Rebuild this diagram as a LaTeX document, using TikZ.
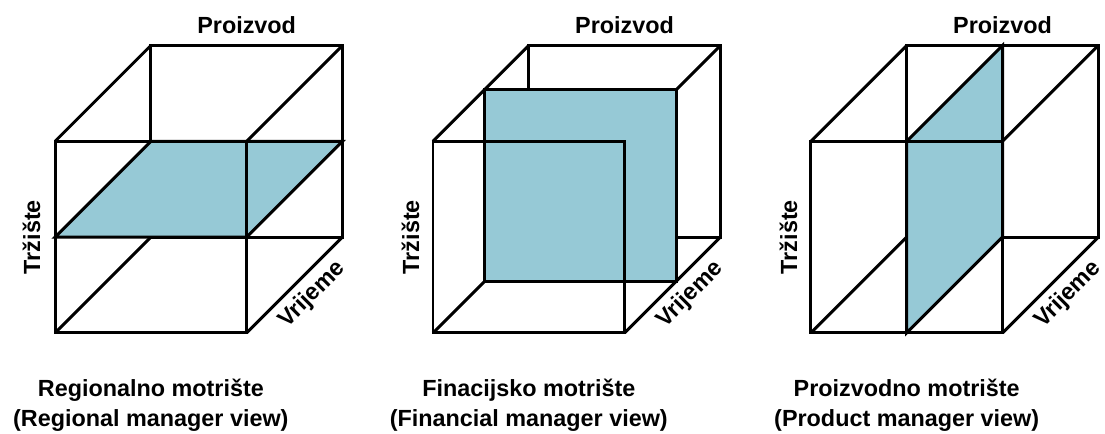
\documentclass[tikz,border=0pt]{standalone}
\usepackage{fontspec}
\setmainfont{Liberation Sans}
\usepackage{xcolor}
\usepackage{tikz}

\definecolor{slicefill}{RGB}{150,201,214}

\begin{document}
\begin{tikzpicture}[
    x=0.958cm, y=0.958cm,
    edge/.style={line width=1.7pt},
    slice/.style={fill=slicefill, draw, line width=1.7pt},
    axis/.style={font=\fontsize{13.3}{16}\selectfont\bfseries, inner sep=0},
    caption/.style={font=\fontsize{13.3}{17}\selectfont\bfseries, align=center, inner sep=0}
]
\useasboundingbox (0,0) rectangle (23.07,9.06);

% Regional view
\begin{scope}[shift={(1.15,2.11)}]
\draw[edge] (2,2) rectangle (6,6);
\draw[edge] (0,0) -- (2,2) (4,0) -- (6,2) (0,4) -- (2,6) (4,4) -- (6,6);
\draw[slice] (0,2) -- (4,2) -- (6,4) -- (2,4) -- cycle;
\draw[edge] (0,0) rectangle (4,4);
\node[axis, anchor=base] (reg-product) at (4,6.26) {Proizvod};
\node[axis, rotate=90, anchor=base] (reg-market) at (-0.31,2) {Tržište};
\node[axis, rotate=45] (reg-time) at (5.37,0.8) {Vrijeme};
\node[caption, anchor=north] (reg-caption) at (2,-0.96) {Regionalno motrište\\(Regional manager view)};
\end{scope}

% Financial view
\begin{scope}[shift={(9.04,2.11)}]
\draw[edge] (2,2) rectangle (6,6);
\draw[edge] (0,0) -- (2,2) (4,0) -- (6,2) (0,4) -- (2,6) (4,4) -- (6,6);
\draw[slice] (1.08,1.08) rectangle (5.08,5.08);
\draw[edge] (0,0) rectangle (4,4);
\node[axis, anchor=base] (fin-product) at (4,6.26) {Proizvod};
\node[axis, rotate=90, anchor=base] (fin-market) at (-0.29,2) {Tržište};
\node[axis, rotate=45] (fin-time) at (5.37,0.8) {Vrijeme};
\node[caption, anchor=north] (fin-caption) at (2,-0.96) {Finacijsko motrište\\(Financial manager view)};
\end{scope}

% Product view
\begin{scope}[shift={(16.93,2.11)}]
\draw[edge] (2,2) rectangle (6,6);
\draw[edge] (0,0) -- (2,2) (4,0) -- (6,2) (0,4) -- (2,6) (4,4) -- (6,6);
\draw[slice] (2,0) -- (4,2) -- (4,6) -- (2,4) -- cycle;
\draw[edge] (0,0) rectangle (4,4);
\node[axis, anchor=base] (prod-product) at (4,6.26) {Proizvod};
\node[axis, rotate=90, anchor=base] (prod-market) at (-0.29,2) {Tržište};
\node[axis, rotate=45] (prod-time) at (5.37,0.8) {Vrijeme};
\node[caption, anchor=north] (prod-caption) at (2,-0.96) {Proizvodno motrište\\(Product manager view)};
\end{scope}

\end{tikzpicture}
\end{document}
